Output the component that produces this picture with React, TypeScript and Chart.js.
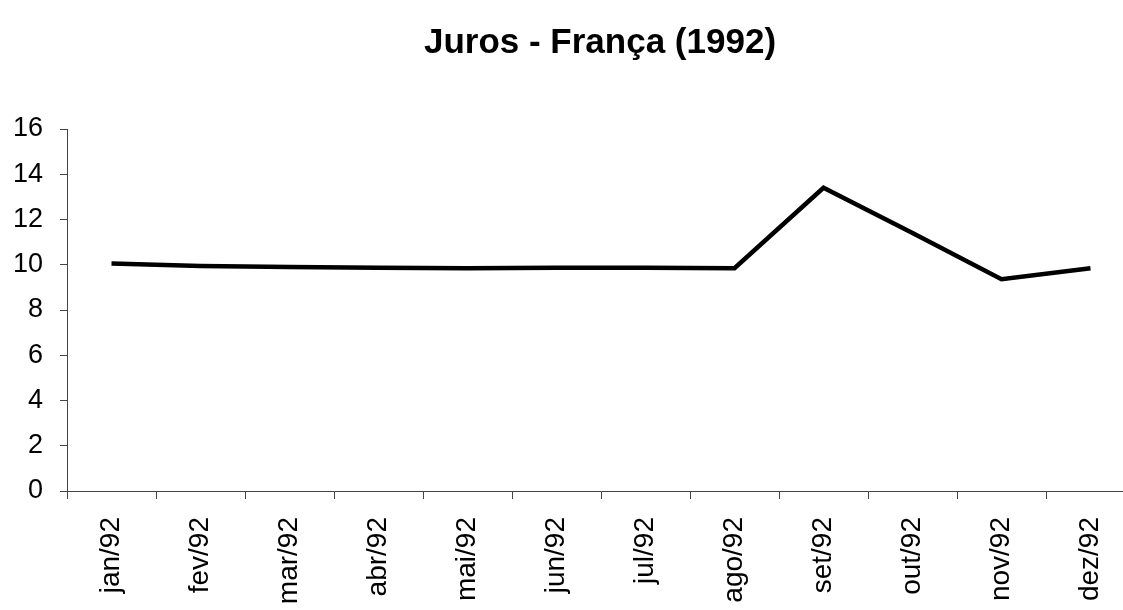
import React, { useEffect, useRef } from "react";
import { Chart, registerables } from "chart.js";

Chart.register(...registerables);

const TITLE = "Juros - França (1992)";
const MONTHS = ["jan/92", "fev/92", "mar/92", "abr/92", "mai/92", "jun/92", "jul/92", "ago/92", "set/92", "out/92", "nov/92", "dez/92"];
const RATES = [10.05, 9.95, 9.9, 9.87, 9.85, 9.87, 9.87, 9.85, 13.4, 11.4, 9.36, 9.85];
const Y_MIN = 0;
const Y_MAX = 16;
const Y_STEP = 2;

const CANVAS_W = 1200;
const CANVAS_H = 700;

export default function App() {
  const ref = useRef<HTMLCanvasElement | null>(null);

  useEffect(() => {
    if (!ref.current) return;
    const font = "Arial, 'Liberation Sans', Helvetica, sans-serif";
    const chart = new Chart(ref.current, {
      type: "line",
      data: {
        labels: MONTHS,
        datasets: [
          {
            data: RATES,
            borderColor: "#000",
            borderWidth: 4.5,
            pointRadius: 0,
            tension: 0,
            fill: false,
            borderJoinStyle: "miter",
          },
        ],
      },
      options: {
        responsive: false,
        animation: false,
        events: [],
        layout: { padding: { left: 0, right: 0, top: 0, bottom: 0 } },
        plugins: {
          legend: { display: false },
          tooltip: { enabled: false },
          title: {
            display: true,
            text: TITLE,
            color: "#000",
            font: { family: font, size: 35, weight: "bold" },
            padding: { top: 22, bottom: 65 },
          },
        },
        scales: {
          x: {
            type: "category",
            offset: true,
            afterFit: (s: any) => {
              s.height = CANVAS_H - 491;
            },
            grid: {
              offset: true,
              drawOnChartArea: false,
              drawTicks: true,
              tickLength: 8,
              color: "#444",
              lineWidth: 1,
            },
            border: { display: true, color: "#444", width: 1 },
            ticks: {
              color: "#000",
              font: { family: font, size: 28 },
              minRotation: 90,
              maxRotation: 90,
              padding: 18,
              autoSkip: false,
            },
          },
          y: {
            position: "left",
            min: Y_MIN,
            max: Y_MAX,
            afterFit: (s: any) => {
              s.width = 67;
            },
            grid: {
              drawOnChartArea: false,
              drawTicks: true,
              tickLength: 7,
              color: "#444",
              lineWidth: 1,
            },
            border: { display: true, color: "#444", width: 1 },
            ticks: {
              stepSize: Y_STEP,
              color: "#000",
              font: { family: font, size: 27 },
              padding: 17,
            },
          },
          yRightSpace: {
            position: "right",
            min: Y_MIN,
            max: Y_MAX,
            afterFit: (s: any) => {
              s.width = CANVAS_W - 1135;
            },
            grid: { display: false, drawTicks: false },
            border: { display: false },
            ticks: { display: false },
          },
        },
      },
    });
    return () => chart.destroy();
  }, []);

  return (
    <div
      style={{
        position: "fixed",
        left: 0,
        top: 0,
        width: 1123,
        height: 610,
        overflow: "hidden",
        background: "#fff",
      }}
    >
      <canvas ref={ref} width={CANVAS_W} height={CANVAS_H} style={{ display: "block" }} />
    </div>
  );
}
